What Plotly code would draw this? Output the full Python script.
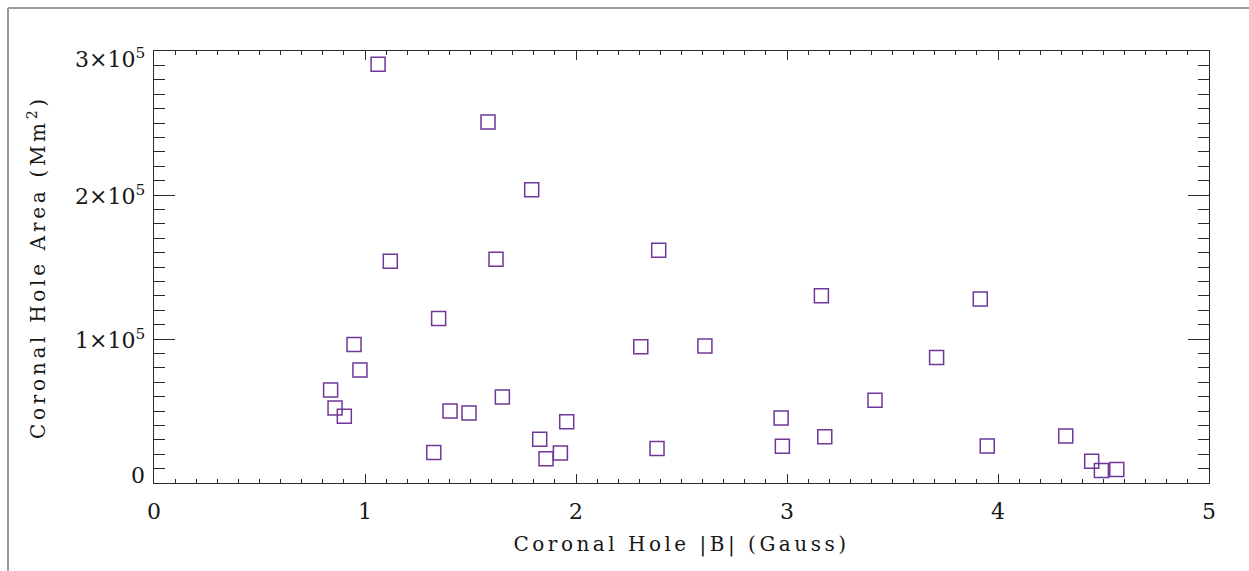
import plotly.graph_objects as go

# Data
b_gauss = [1.062, 1.583, 1.790, 2.392, 1.120, 1.621, 1.349, 0.948, 0.976, 0.837,
           0.858, 0.902, 1.326, 1.403, 1.493, 1.651, 1.828, 1.858, 1.926, 1.956,
           2.307, 2.384, 2.611, 2.972, 2.978, 3.163, 3.179, 3.417, 3.709, 3.916,
           3.949, 4.321, 4.444, 4.490, 4.563]
area_mm2 = [290800, 250700, 203700, 161600, 154000, 155300, 114200, 96100, 78500, 64600,
            52100, 46300, 21100, 50000, 48600, 59700, 30300, 16900, 20800, 42600,
            94700, 23900, 95100, 45100, 25500, 130100, 32200, 57400, 87100, 127800,
            25700, 32600, 15100, 8600, 9300]

x_ticks = [0, 1, 2, 3, 4, 5]
y_tick_vals = [0, 100000, 200000, 300000]
y_tick_text = ["0", "1×10<sup>5</sup>", "2×10<sup>5</sup>", "3×10<sup>5</sup>"]
y_tick_shift = [8, 0, 0, -7]

x_title = "Coronal Hole |B| (Gauss)"
y_title = "Coronal Hole Area (Mm<sup>2</sup>)"

AX = "#2b2b2b"
TXT = "#161616"
MARK = "#6e3799"
FONT = "DejaVu Serif"

W, H = 1249, 571
L, R, T, B = 154, 40, 51, 88
pw, ph = W - L - R, H - T - B

fig = go.Figure()
fig.add_trace(go.Scatter(
    x=b_gauss, y=area_mm2, mode="markers",
    marker=dict(symbol="square-open", size=14, color=MARK, line=dict(width=1.5, color=MARK)),
    hoverinfo="x+y", showlegend=False,
))

axis_common = dict(
    showline=True, linecolor=AX, linewidth=1.3, mirror="ticks",
    ticks="inside", tickcolor=AX, tickwidth=1.2,
    showgrid=False, zeroline=False,
)

fig.update_xaxes(
    range=[0, 5], tickmode="array", tickvals=x_ticks, ticktext=[str(v) for v in x_ticks],
    ticklen=9, ticklabelstandoff=8,
    minor=dict(ticks="inside", ticklen=4, tickmode="linear", tick0=0, dtick=0.1,
               tickcolor=AX, tickwidth=1.0, showgrid=False),
    tickfont=dict(family=FONT, size=22, color=TXT),
    title=dict(text='<span style="letter-spacing:3.5px">' + x_title + '</span>',
               font=dict(family=FONT, size=20, color=TXT), standoff=14),
    **axis_common,
)
fig.update_yaxes(
    range=[0, 300000], tickmode="array", tickvals=y_tick_vals, showticklabels=False,
    ticklen=21,
    minor=dict(ticks="inside", ticklen=11, tickmode="linear", tick0=0, dtick=10000,
               tickcolor=AX, tickwidth=1.0, showgrid=False),
    title=dict(text='<span style="letter-spacing:3.7px">' + y_title + '</span>',
               font=dict(family=FONT, size=20, color=TXT), standoff=101),
    **axis_common,
)

for v, t, s in zip(y_tick_vals, y_tick_text, y_tick_shift):
    fig.add_annotation(x=0, xref="paper", y=v, yref="y", text=t, showarrow=False,
                       xanchor="right", yanchor="middle", xshift=-7, yshift=s,
                       font=dict(family=FONT, size=22, color=TXT))

# outer picture frame (top and left edges)
fx = (8 - L) / pw
fy = (H - B - 8) / ph
fig.add_shape(type="line", xref="paper", yref="paper", x0=fx, x1=(W - L + 5) / pw, y0=fy, y1=fy,
              line=dict(color="#9a9a9a", width=2), layer="below")
fig.add_shape(type="line", xref="paper", yref="paper", x0=fx, x1=fx, y0=fy, y1=-(B + 5) / ph,
              line=dict(color="#9a9a9a", width=2), layer="below")

fig.update_layout(
    width=W, height=H, autosize=False,
    margin=dict(l=L, r=R, t=T, b=B, pad=0),
    paper_bgcolor="white", plot_bgcolor="white",
    font=dict(family=FONT, color=TXT),
)

fig.write_html("out.html")
